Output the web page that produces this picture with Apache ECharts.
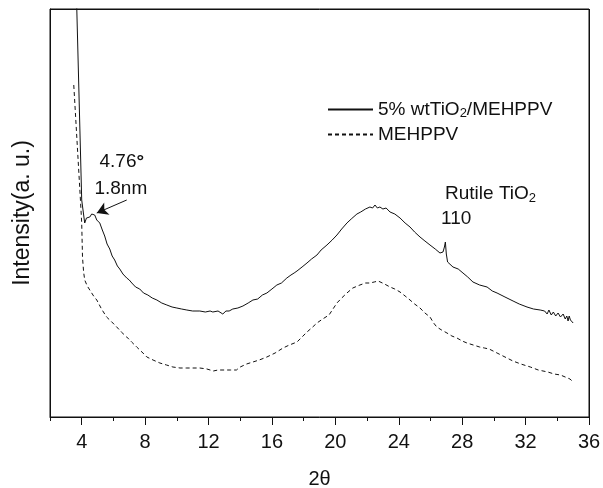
<!DOCTYPE html>
<html>
<head>
<meta charset="utf-8">
<script src="https://cdn.jsdelivr.net/npm/echarts@6/dist/echarts.min.js"></script>
<style>
  html, body { margin: 0; padding: 0; background: #fff; }
  #chart { width: 603px; height: 488px; }
</style>
</head>
<body>
<div id="chart"></div>
<script>
// XRD patterns: 2θ (degrees) vs. intensity (arbitrary units)
const compositeX = [3.65, 4.00, 4.19, 4.30, 4.38, 4.51, 4.63, 4.82, 4.95, 5.14, 5.30, 5.45, 5.60, 5.77, 5.92, 6.08, 6.25, 6.40, 6.60, 6.84, 7.00, 7.16, 7.40, 7.66, 7.90, 8.17, 8.45, 8.74, 9.05, 9.37, 9.70, 10.00, 10.30, 10.63, 11.00, 11.45, 11.80, 12.10, 12.27, 12.60, 12.90, 13.10, 13.30, 13.53, 13.85, 14.17, 14.50, 14.80, 15.10, 15.40, 15.68, 16.00, 16.31, 16.60, 16.94, 17.20, 17.40, 17.58, 17.90, 18.21, 18.50, 18.84, 19.10, 19.47, 19.80, 20.10, 20.40, 20.73, 21.00, 21.36, 21.60, 21.90, 22.18, 22.35, 22.50, 22.65, 22.81, 23.00, 23.20, 23.45, 23.75, 24.08, 24.40, 24.71, 25.00, 25.34, 25.65, 25.97, 26.30, 26.60, 26.79, 26.88, 26.94, 27.00, 27.08, 27.42, 27.75, 28.05, 28.35, 28.68, 29.10, 29.57, 29.90, 30.20, 30.70, 31.21, 31.60, 32.09, 32.50, 32.92, 33.20, 33.36, 33.47, 33.62, 33.75, 33.90, 34.05, 34.20, 34.37, 34.50, 34.60, 34.68, 34.75, 34.83, 35.00];
const compositeY = [433, 217, 194, 199, 201, 200, 203, 202, 197, 194, 187, 181, 173, 168, 161, 157, 151, 148, 143, 139, 137, 134, 130, 128, 124, 122, 119, 117, 114, 112, 110, 109, 108, 107, 106, 106, 105, 106, 105, 106, 103, 106, 106, 108, 109, 111, 114, 117, 118, 122, 124, 128, 132, 134, 139, 142, 144, 146, 150, 154, 158, 162, 167, 172, 177, 182, 188, 194, 198, 203, 205, 208, 210, 209, 212, 209, 210, 208, 209, 205, 203, 199, 194, 190, 185, 180, 176, 172, 168, 164, 165, 170, 175, 163, 155, 150, 148, 144, 140, 135, 132, 130, 126, 124, 120, 116, 113, 110, 108, 107, 106, 103, 107, 102, 105, 101, 104, 100, 103, 98, 101, 96, 101, 97, 94];

const polymerX = [3.50, 3.92, 4.00, 4.05, 4.12, 4.19, 4.35, 4.51, 4.75, 4.95, 5.25, 5.57, 5.90, 6.21, 6.50, 6.84, 7.15, 7.47, 7.80, 8.11, 8.50, 8.93, 9.35, 9.75, 10.20, 10.63, 11.00, 11.45, 11.90, 12.30, 12.60, 13.00, 13.40, 13.76, 14.00, 14.40, 14.80, 15.20, 15.68, 16.20, 16.70, 17.10, 17.58, 17.90, 18.21, 18.50, 18.84, 19.20, 19.60, 19.85, 20.10, 20.40, 20.73, 21.10, 21.55, 21.90, 22.18, 22.45, 22.70, 23.10, 23.45, 23.75, 24.08, 24.40, 24.71, 25.00, 25.34, 25.65, 25.97, 26.20, 26.40, 26.70, 27.04, 27.35, 27.67, 28.00, 28.30, 28.70, 29.10, 29.40, 29.70, 29.95, 30.20, 30.70, 31.20, 31.70, 32.30, 32.80, 33.40, 33.80, 34.20, 34.50, 34.80, 35.00];
const polymerY = [332, 217, 194, 160, 145, 137, 131, 127, 121, 117, 108, 100, 95, 90, 85, 80, 75, 70, 65, 60, 57, 54, 52, 50, 49, 49, 49, 49, 48, 46, 47, 47, 47, 47, 50, 53, 55, 57, 60, 64, 69, 72, 75, 80, 85, 89, 94, 98, 102, 108, 114, 119, 124, 129, 132, 134, 134, 135, 136, 133, 130, 128, 125, 121, 117, 113, 109, 104, 100, 94, 90, 87, 84, 81, 79, 76, 74, 72, 70, 69, 68, 66, 64, 60, 56, 53, 50, 47, 45, 43, 42, 40, 38, 35];

const seriesNames = ['5% wtTiO2/MEHPPV', 'MEHPPV'];
const xLabelValues = [4, 8, 12, 16, 20, 24, 28, 32, 36];
const X_RANGE = [2, 36];
const Y_RANGE = [0, 408];

// annotation anchors, in data coordinates
const peakArrow = { from: [6.84, 217], to: [4.95, 204] };
const notes = [
  { at: [6.53, 255], text: '4.76{deg|°}', align: 'center' },
  { at: [6.47, 228], text: '1.8nm', align: 'center' },
  { at: [26.92, 223], text: 'Rutile TiO{sub|2}', align: 'left' },
  { at: [26.67, 198], text: '110', align: 'left' }
];

const FONT = '"Liberation Sans", Arial, Helvetica, sans-serif';
const INK = '#111';

function pairs(xs, ys) { return xs.map((x, i) => [x, ys[i]]); }

const chart = echarts.init(document.getElementById('chart'), null, { renderer: 'canvas' });

const richSub = {
  sub: { fontSize: 13, fontFamily: FONT, color: INK, verticalAlign: 'bottom', padding: [8, 0, 0, 0] },
  deg: { fontSize: 19, fontFamily: FONT, color: INK, fontWeight: 'bold' }
};

const option = {
  animation: false,
  backgroundColor: '#fff',
  grid: {
    left: 50, right: 14, top: 9, bottom: 71, containLabel: false, outerBoundsMode: 'none',
    show: true, backgroundColor: 'rgba(0,0,0,0)', borderColor: INK, borderWidth: 1
  },
  legend: {
    orient: 'vertical',
    left: 327, top: 100, padding: 0,
    itemWidth: 45, itemHeight: 14, itemGap: 5,
    data: seriesNames,
    itemStyle: { color: 'rgba(0,0,0,0)', borderColor: 'rgba(0,0,0,0)', borderWidth: 0 },
    formatter: n => n.replace('TiO2', 'TiO{sub|2}'),
    textStyle: { fontSize: 19, fontFamily: FONT, color: INK, rich: richSub }
  },
  xAxis: [
    {
      type: 'value', min: X_RANGE[0], max: X_RANGE[1], interval: 2, position: 'bottom',
      name: '2θ', nameLocation: 'middle', nameGap: 52,
      nameTextStyle: { fontSize: 20, fontFamily: FONT, color: INK },
      axisLine: { show: true, onZero: false, lineStyle: { color: INK, width: 1 } },
      axisTick: { show: true, inside: false, length: 8, customValues: xLabelValues, lineStyle: { color: INK } },
      axisLabel: { show: true, customValues: xLabelValues, margin: 15, fontSize: 20, fontFamily: FONT, color: INK },
      splitLine: { show: false }
    },
    {
      type: 'value', min: X_RANGE[0], max: X_RANGE[1], interval: 2, position: 'bottom',
      axisLine: { show: false, onZero: false },
      axisTick: { show: true, inside: false, length: 4, lineStyle: { color: INK } },
      axisLabel: { show: false },
      splitLine: { show: false }
    }
  ],
  yAxis: {
    type: 'value', min: Y_RANGE[0], max: Y_RANGE[1], position: 'left',
    name: 'Intensity(a. u.)', nameLocation: 'middle', nameGap: 16, nameRotate: 90,
    nameTextStyle: { fontSize: 23, fontFamily: FONT, color: INK },
    axisLine: { show: true, onZero: false, lineStyle: { color: INK, width: 1 } },
    axisTick: { show: false },
    axisLabel: { show: false },
    splitLine: { show: false }
  },
  series: [
    {
      name: seriesNames[0], type: 'line', xAxisIndex: 0, yAxisIndex: 0,
      data: pairs(compositeX, compositeY),
      showSymbol: false, symbol: 'none', clip: true,
      lineStyle: { color: INK, width: 1, type: 'solid' },
      itemStyle: { color: INK },
      markLine: {
        silent: true, animation: false,
        symbol: ['none', 'arrow'], symbolSize: [10, 11],
        label: { show: false },
        lineStyle: { color: INK, width: 1, type: 'solid' },
        data: [[{ coord: peakArrow.from }, { coord: peakArrow.to }]]
      }
    },
    {
      name: seriesNames[1], type: 'line', xAxisIndex: 0, yAxisIndex: 0,
      data: pairs(polymerX, polymerY),
      showSymbol: false, symbol: 'none', clip: false,
      lineStyle: { color: INK, width: 1, type: [4, 3] },
      itemStyle: { color: INK },
      // top and right edges of the plot frame
      markLine: {
        silent: true, animation: false, symbol: 'none',
        label: { show: false },
        lineStyle: { color: INK, width: 1, type: 'solid' },
        emphasis: { disabled: true },
        data: [{ yAxis: Y_RANGE[1] }, { xAxis: X_RANGE[1] }]
      }
    }
  ]
};

chart.setOption(option);

// text annotations placed from data coordinates
const toPx = v => chart.convertToPixel({ xAxisIndex: 0, yAxisIndex: 0 }, v);
chart.setOption({
  graphic: notes.map(n => {
    const p = toPx(n.at);
    return {
      type: 'text', x: p[0], y: p[1], silent: true,
      style: {
        text: n.text, fontSize: 19, fontFamily: FONT, fill: INK,
        align: n.align, verticalAlign: 'middle', rich: richSub
      }
    };
  })
});
</script>
</body>
</html>
